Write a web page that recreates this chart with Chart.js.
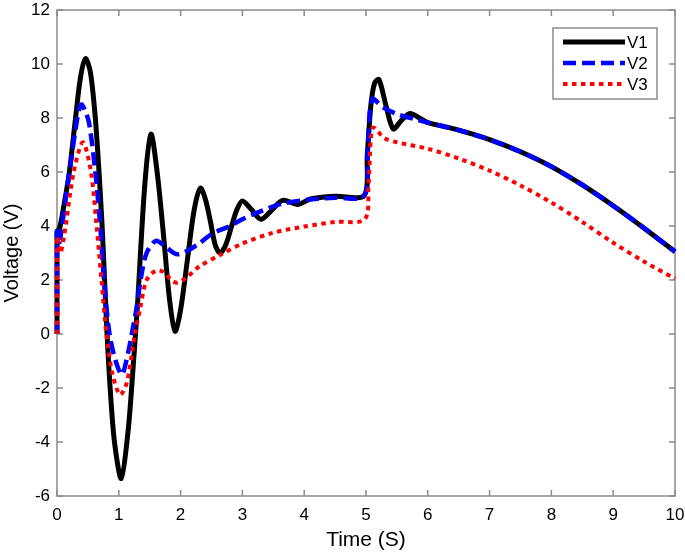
<!DOCTYPE html>
<html>
<head>
<meta charset="utf-8">
<title>Voltage vs time</title>
<script src="https://cdn.jsdelivr.net/npm/chart.js@4.4.1/dist/chart.umd.min.js"></script>
<style>
  html, body { margin: 0; padding: 0; background: #fff; }
  #wrap { width: 685px; height: 554px; }
</style>
</head>
<body>
<div id="wrap"><canvas id="chart" width="685" height="554"></canvas></div>
<script>
// --- Values ---
const t1 = [0, 0, 0.04, 0.1, 0.2, 0.3, 0.38, 0.46, 0.54, 0.62, 0.68, 0.73, 0.77, 0.81, 0.86, 0.93, 1.04, 1.15, 1.22, 1.3, 1.42, 1.52, 1.62, 1.72, 1.82, 1.91,
  2.0, 2.11, 2.22, 2.32, 2.4, 2.48, 2.56, 2.64, 2.73, 2.82, 2.91, 3.0, 3.15, 3.3, 3.48, 3.65, 3.9, 4.1, 4.5, 4.97,
  5.02, 5.08, 5.14, 5.21, 5.33, 5.44, 5.57, 5.71, 5.9, 6.0, 6.5, 7.0, 7.5, 8.0, 8.5, 9.0, 9.5, 10];
const v1 = [0, 3.8, 3.9, 4.6, 6.0, 8.0, 9.5, 10.2, 9.7, 8.0, 6.0, 4.0, 2.0, 0.0, -2.0, -4.0, -5.35, -3.6, -1.6, 1.0, 5.5, 7.4, 6.0, 3.75, 1.3, 0.1,
  0.9, 2.75, 4.6, 5.4, 5.0, 4.2, 3.3, 3.0, 3.3, 3.95, 4.6, 4.93, 4.6, 4.25, 4.6, 4.95, 4.8, 5.0, 5.1, 5.13,
  6.6, 8.5, 9.3, 9.42, 8.4, 7.6, 7.9, 8.17, 7.95, 7.83, 7.55, 7.2, 6.75, 6.2, 5.52, 4.75, 3.92, 3.05];

const t2 = [0, 0, 0.04, 0.08, 0.2, 0.33, 0.39, 0.45, 0.52, 0.62, 0.7, 0.76, 0.85, 0.95, 1.05, 1.15, 1.21, 1.29, 1.36, 1.45, 1.6,
  1.75, 1.95, 2.27, 2.5, 2.8, 3.0, 3.3, 3.6, 4.0, 4.5, 4.97, 5.03, 5.1, 5.27, 5.5, 5.8, 6.0, 6.5, 7.0, 7.5, 8.0, 8.5, 9.0, 9.5, 10];
const v2 = [0, 3.8, 3.4, 4.0, 6.0, 8.0, 8.5, 8.3, 7.8, 6.0, 4.0, 2.0, 0.0, -1.0, -1.5, -0.7, 0.0, 1.0, 2.1, 3.0, 3.45,
  3.25, 2.95, 3.3, 3.7, 4.0, 4.25, 4.55, 4.8, 4.96, 5.05, 5.12, 7.0, 8.7, 8.4, 8.15, 7.95, 7.83, 7.55, 7.2, 6.75, 6.2, 5.52, 4.75, 3.92, 3.05];

const t3 = [0, 0, 0.03, 0.06, 0.14, 0.27, 0.42, 0.55, 0.64, 0.72, 0.8, 0.9, 1.02, 1.13, 1.26, 1.35, 1.45, 1.6,
  1.72, 1.85, 1.95, 2.1, 2.3, 2.64, 3.0, 3.5, 4.0, 4.5, 4.98, 5.04, 5.08, 5.12, 5.3, 5.5, 6.0, 6.5, 7.0, 7.5, 8.0, 8.5, 9.0, 9.5, 10];
const v3 = [0, 3.6, 3.2, 3.0, 4.0, 6.0, 7.1, 6.0, 4.0, 2.0, 0.0, -1.5, -2.25, -1.8, 0.0, 1.0, 2.0, 2.35,
  2.3, 2.0, 1.9, 2.1, 2.5, 2.93, 3.35, 3.75, 3.98, 4.15, 4.25, 5.5, 7.3, 7.65, 7.25, 7.1, 6.86, 6.5, 6.05, 5.5, 4.87, 4.15, 3.38, 2.68, 2.05];

const seriesNames = ['V1', 'V2', 'V3'];
const xTicks = [0, 1, 2, 3, 4, 5, 6, 7, 8, 9, 10];
const yTicks = [-6, -4, -2, 0, 2, 4, 6, 8, 10, 12];

const FONT = "'Liberation Sans', Arial, Helvetica, sans-serif";
const AXIS_COLOR = '#8c8c8c';

const styles = [
  { color: '#000000', width: 5, dash: [] },
  { color: '#0000ff', width: 4.5, dash: [13, 6] },
  { color: '#ff0000', width: 4, dash: [4.5, 4.5] }
];

function pts(t, v) {
  return t.map((x, i) => ({ x: x, y: v[i] }));
}

// --- Box, inward ticks and legend drawn in the MATLAB style ---
const matlabFrame = {
  id: 'matlabFrame',
  beforeDatasetsDraw(chart) {
    const { ctx, chartArea: a, scales } = chart;
    const tl = 6;
    ctx.save();
    ctx.strokeStyle = AXIS_COLOR;
    ctx.lineWidth = 1.5;
    ctx.strokeRect(a.left, a.top, a.right - a.left, a.bottom - a.top);
    ctx.beginPath();
    xTicks.forEach(v => {
      const px = scales.x.getPixelForValue(v);
      ctx.moveTo(px, a.bottom); ctx.lineTo(px, a.bottom - tl);
      ctx.moveTo(px, a.top); ctx.lineTo(px, a.top + tl);
    });
    yTicks.forEach(v => {
      const py = scales.y.getPixelForValue(v);
      ctx.moveTo(a.left, py); ctx.lineTo(a.left + tl, py);
      ctx.moveTo(a.right, py); ctx.lineTo(a.right - tl, py);
    });
    ctx.stroke();
    ctx.restore();
  },
  afterDatasetsDraw(chart) {
    const { ctx } = chart;
    const box = { x: 553, y: 28, w: 104, h: 71 };
    ctx.save();
    ctx.fillStyle = '#fff';
    ctx.fillRect(box.x, box.y, box.w, box.h);
    ctx.strokeStyle = AXIS_COLOR;
    ctx.lineWidth = 1.5;
    ctx.strokeRect(box.x, box.y, box.w, box.h);
    ctx.font = '17px ' + FONT;
    ctx.textBaseline = 'middle';
    ctx.textAlign = 'left';
    seriesNames.forEach((name, i) => {
      const y = 42 + i * 21;
      const s = styles[i];
      ctx.beginPath();
      ctx.setLineDash(s.dash);
      ctx.strokeStyle = s.color;
      ctx.lineWidth = s.width;
      ctx.moveTo(563, y);
      ctx.lineTo(625, y);
      ctx.stroke();
      ctx.setLineDash([]);
      ctx.fillStyle = '#000';
      ctx.fillText(name, 627, y + 1);
    });
    ctx.restore();
  }
};

const seriesT = [t1, t2, t3];
const seriesV = [v1, v2, v3];

const datasets = seriesNames.map((name, i) => ({
  label: name,
  data: pts(seriesT[i], seriesV[i]),
  borderColor: styles[i].color,
  borderWidth: styles[i].width,
  borderDash: styles[i].dash,
  borderCapStyle: 'butt',
  pointRadius: 0,
  tension: 0.3,
  fill: false,
  clip: false,
  order: 3 - i
}));

new Chart(document.getElementById('chart'), {
  type: 'line',
  data: { datasets },
  plugins: [matlabFrame],
  options: {
    responsive: false,
    animation: false,
    layout: { padding: { top: 10, right: 10, left: 0, bottom: 0 } },
    plugins: { legend: { display: false }, tooltip: { enabled: false } },
    scales: {
      x: {
        type: 'linear',
        min: 0,
        max: 10,
        afterBuildTicks: s => { s.ticks = xTicks.map(v => ({ value: v })); },
        afterFit: s => { s.height = 58; s.paddingLeft = 0; s.paddingRight = 0; },
        grid: { display: false, drawTicks: false },
        border: { display: false },
        ticks: { padding: 9, color: '#000', font: { family: FONT, size: 17 }, maxRotation: 0 },
        title: { display: true, text: 'Time (S)', color: '#000', font: { family: FONT, size: 21 }, padding: { top: 0, bottom: 1 } }
      },
      y: {
        type: 'linear',
        min: -6,
        max: 12,
        afterBuildTicks: s => { s.ticks = yTicks.map(v => ({ value: v })); },
        afterFit: s => { s.width = 57; s.paddingTop = 0; s.paddingBottom = 0; },
        grid: { display: false, drawTicks: false },
        border: { display: false },
        ticks: { padding: 7, color: '#000', font: { family: FONT, size: 17 } },
        title: { display: true, text: 'Voltage (V)', color: '#000', font: { family: FONT, size: 20 }, padding: { top: 0, bottom: 0 } }
      }
    }
  }
});
</script>
</body>
</html>
